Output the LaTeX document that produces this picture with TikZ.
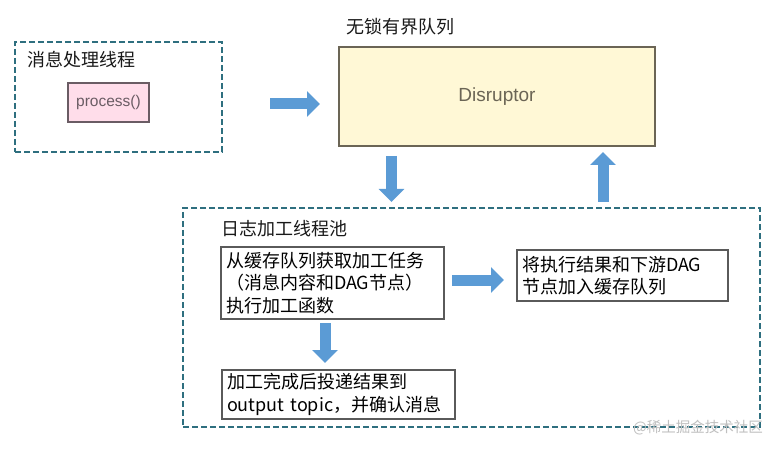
\documentclass[tikz,border=0pt]{standalone}
\usepackage{fontspec}
\setmainfont{Noto Sans CJK SC}
\newfontfamily\arialfont{Liberation Sans}
\usetikzlibrary{arrows.meta}
\definecolor{dashteal}{HTML}{2E6F7F}
\definecolor{arrowblue}{HTML}{5B9BD5}
\definecolor{boxgray}{HTML}{5A5A5A}
\definecolor{pinkfill}{HTML}{FFDDEA}
\definecolor{pinkdraw}{HTML}{6A5C64}
\definecolor{yellowfill}{HTML}{FFF8D6}
\definecolor{yellowdraw}{HTML}{6B6555}
\begin{document}
\begin{tikzpicture}[x=1pt,y=-1pt,
  groupbox/.style={draw=dashteal, line width=1.8pt, dash pattern=on 6pt off 3pt, inner sep=0pt},
  grouptitle/.style={anchor=west, inner sep=0pt, font=\fontsize{18}{22}\selectfont, text=black!90},
  stepbox/.style={draw=boxgray, line width=1.6pt, fill=white, inner xsep=5pt, inner ysep=0pt, align=left, font=\fontsize{18}{22.5}\selectfont, text=black},
  barrow/.style={draw=arrowblue, line width=11pt, -{Triangle[length=13pt,width=25pt]}},
]
\useasboundingbox (0,0) rectangle (776,449);
\fill[white] (0,0) rectangle (776,449);

% left group
\node[groupbox, minimum width=207pt, minimum height=110pt] (left) at (118.5,97) {};
\node[grouptitle] (lefttitle) at (27,60) {消息处理线程};
\node[draw=pinkdraw, line width=1.6pt, fill=pinkfill, minimum width=81pt, minimum height=39pt, inner sep=0pt,
      font=\arialfont\fontsize{15.5}{18}\selectfont, text=pinkdraw] (proc) at (108.5,102.5) {process()};

% disruptor
\node[grouptitle] (disrtitle) at (346,27) {无锁有界队列};
\node[draw=yellowdraw, line width=1.8pt, fill=yellowfill, minimum width=316pt, minimum height=99pt, inner sep=0pt,
      font=\arialfont\fontsize{19}{22}\selectfont, text=yellowdraw] (disr) at (497,96.5) {Disruptor};

% pool group
\node[groupbox, minimum width=577pt, minimum height=219pt] (pool) at (471.5,317.5) {};
\node[grouptitle] (pooltitle) at (221,229) {日志加工线程池};

\node[stepbox, minimum width=223pt, minimum height=72pt, text width=213pt] (b1) at (332.5,283)
  {从缓存队列获取加工任务\\（消息内容和DAG节点）\\执行加工函数};
\node[stepbox, minimum width=211pt, minimum height=51pt, text width=201pt] (b2) at (622.5,275.5)
  {将执行结果和下游DAG\\节点加入缓存队列};
\node[stepbox, minimum width=233pt, minimum height=49pt, text width=223pt] (b3) at (338.5,394.5)
  {加工完成后投递结果到\\output topic，并确认消息};

% arrows
\coordinate (a1s) at (270,104);
\coordinate (a1e) at (320,104);
\draw[barrow] (a1s) -- (a1e);

\coordinate (a2s) at (391.5,156);
\coordinate (a2e) at (391.5,202);
\draw[barrow] (a2s) -- (a2e);

\coordinate (a3s) at (603,202);
\coordinate (a3e) at (603,152);
\draw[barrow] (a3s) -- (a3e);

\coordinate (a4s) at (452,280);
\coordinate (a4e) at (504,280);
\draw[barrow] (a4s) -- (a4e);

\coordinate (a5s) at (325,323);
\coordinate (a5e) at (325,363);
\draw[barrow] (a5s) -- (a5e);

% watermark
\node[anchor=east, inner sep=0pt, font=\fontsize{14.5}{17}\selectfont, text=black!25] (wm) at (763,428) {@稀土掘金技术社区};
\end{tikzpicture}
\end{document}
